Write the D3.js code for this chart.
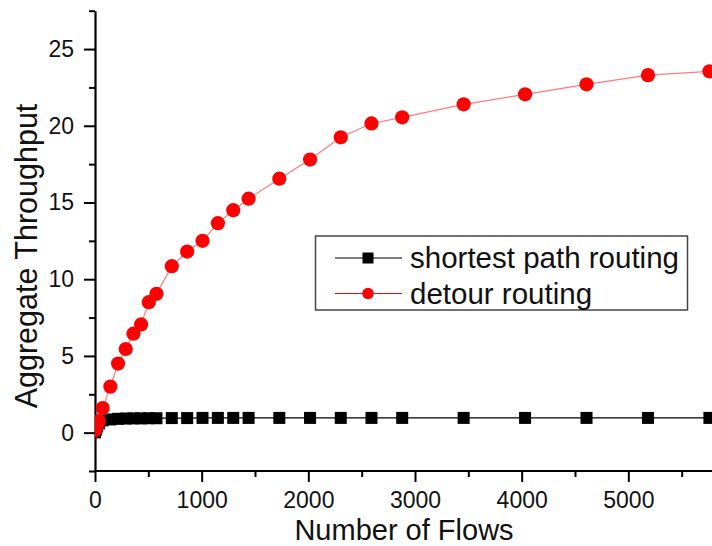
<!DOCTYPE html>
<html>
<head>
<meta charset="utf-8">
<script src="https://cdn.jsdelivr.net/npm/d3@7"></script>
<style>
  body { margin: 0; background: #fff; }
  text { font-family: "Liberation Sans", Arial, sans-serif; fill: #111; }
</style>
</head>
<body>
<div id="graph"></div>
<script>
// Data
var flows = [0, 9, 18, 36, 72, 144, 216, 288, 360, 432, 504, 576, 720, 864, 1008,
  1152, 1296, 1440, 1728, 2016, 2304, 2592, 2880, 3456, 4032, 4608, 5184, 5760];
var shortestPath = [0.02, 0.2, 0.4, 0.6, 0.8, 0.86, 0.9, 0.92, 0.93, 0.93, 0.94, 0.94,
  0.95, 0.95, 0.96, 0.96, 0.96, 0.96, 0.96, 0.96, 0.96, 0.96, 0.96, 0.96, 0.96, 0.96, 0.96, 0.96];
var detour = [0.15, 0.3, 0.5, 0.75, 1.6, 3.0, 4.5, 5.45, 6.45, 7.05, 8.5, 9.05,
  10.85, 11.8, 12.5, 13.65, 14.5, 15.25, 16.55, 17.8, 19.25, 20.15, 20.55,
  21.4, 22.05, 22.7, 23.3, 23.55];
var xTicks = [0, 1000, 2000, 3000, 4000, 5000];
var yTicks = [0, 5, 10, 15, 20, 25];
var seriesNames = ["shortest path routing", "detour routing"];

const WIDTH = 712, HEIGHT = 546;

var x = d3.scaleLinear().domain([0, 6000]).range([95, 735]);
var y = d3.scaleLinear().domain([-2.5, 27.5]).range([471, 10.7]);

var svg = d3.select("#graph").append("svg")
  .attr("width", WIDTH)
  .attr("height", HEIGHT);

svg.append("defs").append("clipPath").attr("id", "plot")
  .append("rect")
  .attr("x", x(0)).attr("y", y(27.5))
  .attr("width", WIDTH - x(0)).attr("height", y(-2.5) - y(27.5));

// minor ticks
var xMinor = d3.range(500, 6000, 1000);
var yMinor = d3.range(-2.5, 28, 5);

function styleAxis(g) {
  g.select(".domain").attr("stroke-width", 2.2);
  g.selectAll(".tick line").attr("stroke-width", 2);
  g.selectAll(".tick text")
    .style("font-size", "23px")
    .attr("fill", "#111");
}

var gx = svg.append("g")
  .attr("transform", "translate(0," + y(-2.5) + ")")
  .call(d3.axisBottom(x).tickValues(xTicks).tickFormat(d3.format("d"))
    .tickSize(11).tickSizeOuter(0).tickPadding(10))
  .call(styleAxis);
gx.select(".domain").attr("d", "M" + x(0) + ",0H" + WIDTH);

svg.append("g")
  .attr("transform", "translate(0," + y(-2.5) + ")")
  .call(d3.axisBottom(x).tickValues(xMinor).tickFormat("").tickSize(6).tickSizeOuter(0))
  .call(function (g) { g.select(".domain").remove(); g.selectAll("line").attr("stroke-width", 2); });

svg.append("g")
  .attr("transform", "translate(" + x(0) + ",0)")
  .call(d3.axisLeft(y).tickValues(yTicks).tickSize(11).tickSizeOuter(0).tickPadding(10))
  .call(styleAxis);

svg.append("g")
  .attr("transform", "translate(" + x(0) + ",0)")
  .call(d3.axisLeft(y).tickValues(yMinor).tickFormat("").tickSize(6).tickSizeOuter(0))
  .call(function (g) { g.select(".domain").remove(); g.selectAll("line").attr("stroke-width", 2); });

// axis titles
svg.append("text")
  .attr("x", 404).attr("y", 540)
  .attr("text-anchor", "middle")
  .style("font-size", "29px")
  .text("Number of Flows");

svg.append("text")
  .attr("transform", "translate(37,256) rotate(-90)")
  .attr("text-anchor", "middle")
  .style("font-size", "30.5px")
  .text("Aggregate Throughput");

// series
var plot = svg.append("g").attr("clip-path", "url(#plot)");

var line = d3.line()
  .x(function (d) { return x(d[0]); })
  .y(function (d) { return y(d[1]); });

var blackData = flows.map(function (f, i) { return [f, shortestPath[i]]; });
var redData = flows.map(function (f, i) { return [f, detour[i]]; });

plot.append("path")
  .attr("d", line(blackData))
  .attr("fill", "none").attr("stroke", "#000").attr("stroke-width", 1.2);

plot.selectAll(".sq").data(blackData).enter().append("rect")
  .attr("x", function (d) { return x(d[0]) - 6; })
  .attr("y", function (d) { return y(d[1]) - 6; })
  .attr("width", 12).attr("height", 12)
  .attr("fill", "#000");

plot.append("path")
  .attr("d", line(redData))
  .attr("fill", "none").attr("stroke", "#ff7a7a").attr("stroke-width", 1.2);

plot.selectAll(".ci").data(redData).enter().append("circle")
  .attr("cx", function (d) { return x(d[0]); })
  .attr("cy", function (d) { return y(d[1]); })
  .attr("r", 7.1)
  .attr("fill", "#ff0000");

// legend
var legend = svg.append("g");
legend.append("rect")
  .attr("x", 315.5).attr("y", 236).attr("width", 372).attr("height", 74)
  .attr("fill", "#fff").attr("stroke", "#444").attr("stroke-width", 1.5);

var rowsY = [258, 293.5];
seriesNames.forEach(function (name, i) {
  var g = legend.append("g").attr("transform", "translate(0," + rowsY[i] + ")");
  g.append("line").attr("x1", 335).attr("x2", 402).attr("y1", 0).attr("y2", 0)
    .attr("stroke", i === 0 ? "#000" : "#ff0000").attr("stroke-width", 1.2);
  if (i === 0) {
    g.append("rect").attr("x", 362.5).attr("y", -5.5).attr("width", 11).attr("height", 11).attr("fill", "#000");
  } else {
    g.append("circle").attr("cx", 368).attr("cy", 0).attr("r", 5.8).attr("fill", "#ff0000");
  }
  g.append("text").attr("x", 410).attr("y", 10)
    .style("font-size", "29.5px")
    .text(name);
});
</script>
</body>
</html>
